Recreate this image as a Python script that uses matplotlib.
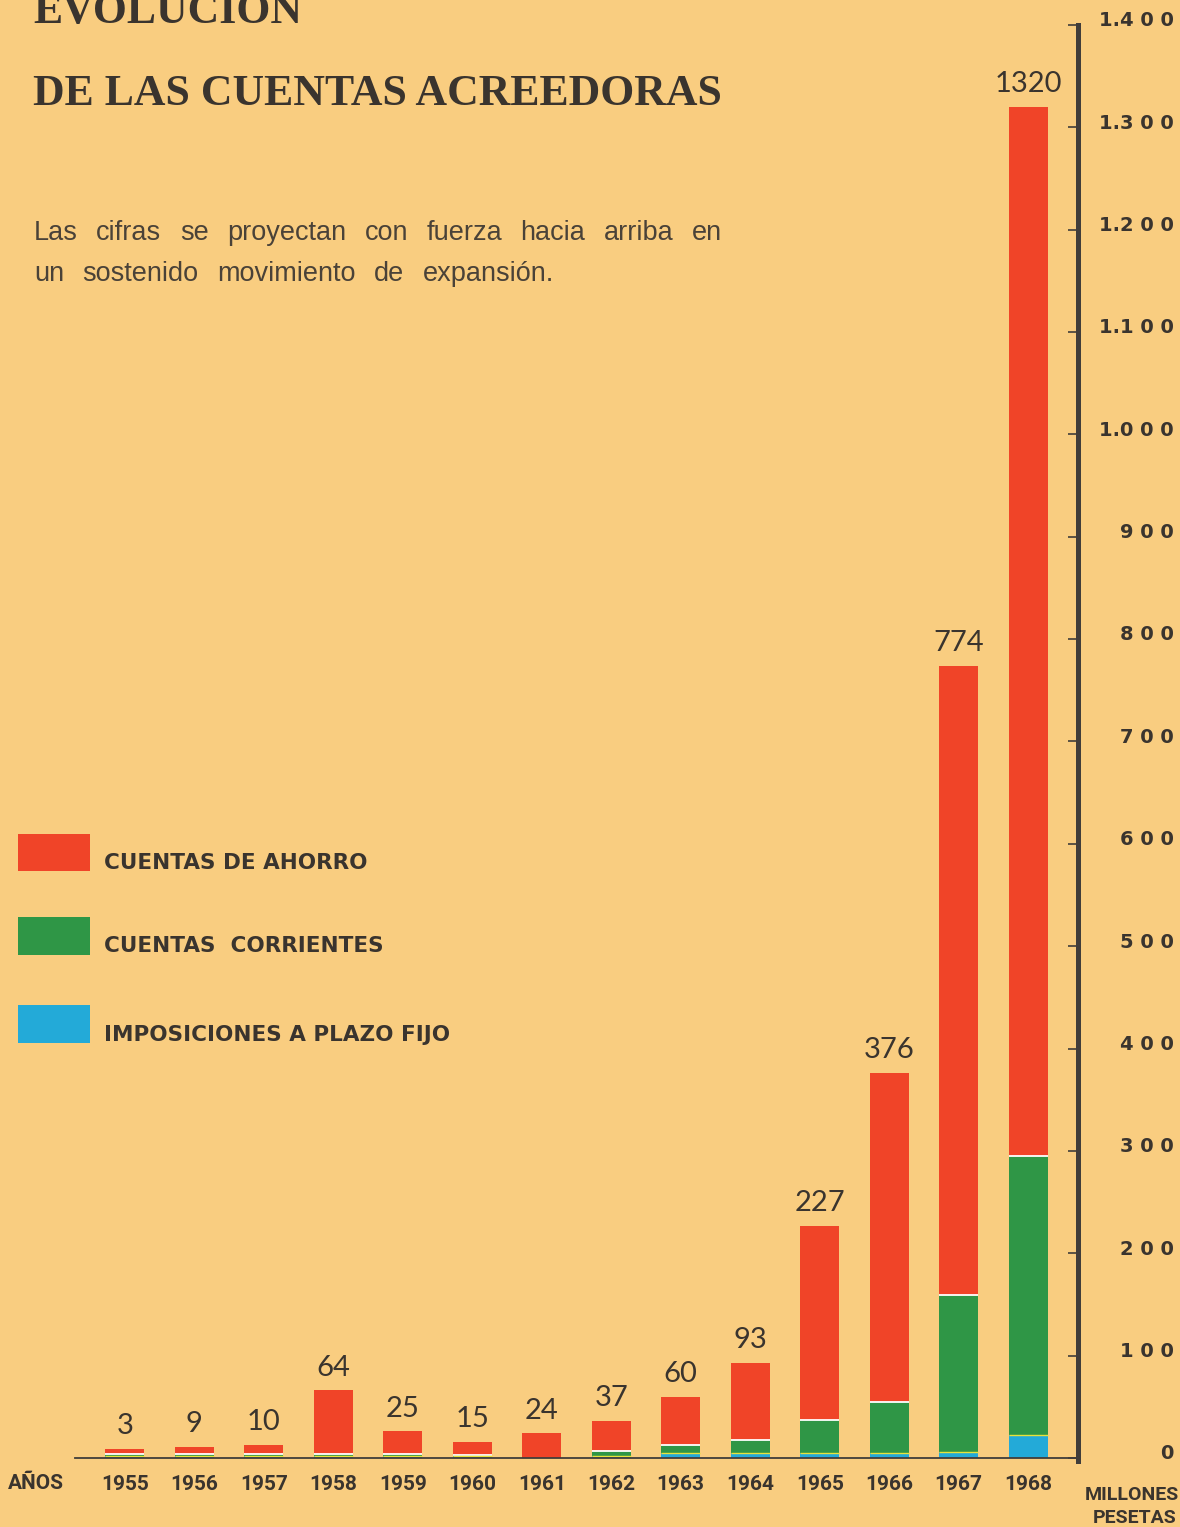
import numpy as np
import matplotlib
matplotlib.use("Agg")
import matplotlib.pyplot as plt
from matplotlib.patches import Rectangle

# ---------------- data ----------------
years = ["1955", "1956", "1957", "1958", "1959", "1960", "1961",
         "1962", "1963", "1964", "1965", "1966", "1967", "1968"]
ahorro = [5, 7, 9, 62, 22, 13, 24, 30, 47, 75, 190, 321, 615, 1025]
corrientes = [2.5, 2.5, 2.5, 2.5, 2.5, 1.5, 0, 5, 8, 13, 32, 50, 153, 273]
plazo_fijo = [1.5, 1.5, 1.5, 1.5, 1.5, 1.5, 0, 1.5, 5, 5, 5, 5, 6, 22]
totals = [3, 9, 10, 64, 25, 15, 24, 37, 60, 93, 227, 376, 774, 1320]
ytick_values = [0, 100, 200, 300, 400, 500, 600, 700, 800, 900,
                1000, 1100, 1200, 1300, 1400]
ytick_labels = ["0", "1 0 0", "2 0 0", "3 0 0", "4 0 0", "5 0 0", "6 0 0",
                "7 0 0", "8 0 0", "9 0 0", "1.0 0 0", "1.1 0 0", "1.2 0 0",
                "1.3 0 0", "1.4 0 0"]
legend_labels = ["CUENTAS DE AHORRO", "CUENTAS  CORRIENTES",
                 "IMPOSICIONES A PLAZO FIJO"]
subtitle_line1 = "Las cifras se proyectan con fuerza hacia arriba en"
subtitle_line2 = "un sostenido movimiento de expansión."

# ---------------- style ----------------
BG = "#F9CD80"
RED = "#F04428"
GREEN = "#2F9646"
BLUE = "#23AAD8"
INK = "#3A342E"
AXIS = "#413D3A"

W, H = 1180, 1527
fig = plt.figure(figsize=(W / 100, H / 100), dpi=100, facecolor=BG)

def fx(px):
    return px / W

def fy(py):
    return 1 - py / H

ax = fig.add_axes([fx(75), (H - 1458) / H, (1078 - 75) / W, (1458 - 14.7) / H])
ax.set_facecolor("none")
ax.set_xlim(-0.716, 13.716)
ax.set_ylim(0, 1410)

x = np.arange(len(years))
width = 0.56
a = np.array(ahorro, dtype=float)
c = np.array(corrientes, dtype=float)
p = np.array(plazo_fijo, dtype=float)

ax.bar(x, p, width, color=BLUE, linewidth=0, zorder=2)
ax.bar(x, c, width, bottom=p, color=GREEN, linewidth=0, zorder=2)
ax.bar(x, a, width, bottom=p + c, color=RED, linewidth=0, zorder=2)

# thin separators between the stacked segments
for xi, pi, ci in zip(x, p, c):
    if ci > 0:
        ax.hlines(pi + ci, xi - width / 2, xi + width / 2, color="white",
                  lw=1.3, zorder=3)
    if pi > 0:
        ax.hlines(pi, xi - width / 2, xi + width / 2, color="#E8E23A",
                  lw=1.0, zorder=3)

# value labels
for xi, tot, top in zip(x, totals, a + c + p):
    ax.annotate(str(tot), xy=(xi, top), xytext=(0, 7),
                textcoords="offset points", ha="center", va="bottom",
                fontsize=21, family=["Lato", "DejaVu Sans"], weight="normal",
                color=INK, annotation_clip=False)

# axes styling
for s in ("left", "top"):
    ax.spines[s].set_visible(False)
ax.spines["right"].set_linewidth(3.6)
ax.spines["right"].set_color(AXIS)
ax.spines["right"].set_bounds(-3, 1400)
ax.spines["right"].set_zorder(5)
ax.spines["bottom"].set_linewidth(1.3)
ax.spines["bottom"].set_color(AXIS)
ax.spines["bottom"].set_zorder(5)

ax.yaxis.tick_right()
ax.set_yticks(ytick_values)
ax.set_yticklabels([])
ax.tick_params(axis="y", direction="in", length=7, width=1.2, color=AXIS)
for v, lab in zip(ytick_values, ytick_labels):
    ax.annotate(lab, xy=(1, v), xycoords=("axes fraction", "data"),
                xytext=(69, 3), textcoords="offset points", ha="right",
                va="center", fontsize=14, weight="bold",
                family=["DejaVu Sans"], color=INK, annotation_clip=False)

ax.set_xticks(x)
ax.set_xticklabels(years, fontsize=15, weight="bold",
                   family=["Roboto", "DejaVu Sans"], color=INK)
ax.tick_params(axis="x", length=0, pad=12)

# ---------------- titles ----------------
title_font = dict(family=["Liberation Serif", "DejaVu Serif"], fontsize=31.5,
                  weight="bold", color=INK, va="baseline")
fig.text(fx(33), fy(23), "EVOLUCION", **title_font)
fig.text(fx(33), fy(105), "DE LAS CUENTAS ACREEDORAS", **title_font)

# justified subtitle
sub_font = dict(family=["Liberation Sans", "DejaVu Sans"], fontsize=19.5,
                color="#4A4238", va="baseline")
renderer = fig.canvas.get_renderer()

def place_words(line, x0, ybase, gap=None, x1=None):
    words = line.split()
    texts = [fig.text(0, 0, w, **sub_font) for w in words]
    widths = [t.get_window_extent(renderer).width for t in texts]
    if gap is None:
        gap = (x1 - x0 - sum(widths)) / (len(words) - 1)
    xx = x0
    for t, w in zip(texts, widths):
        t.set_position((fx(xx), fy(ybase)))
        xx += w + gap
    return gap

g = place_words(subtitle_line1, 34, 240, x1=722)
place_words(subtitle_line2, 34, 281, gap=g)

# ---------------- legend ----------------
leg_colors = [RED, GREEN, BLUE]
leg_boxes = [(834, 871), (917, 955), (1005, 1043)]
leg_base = [869, 952, 1041]
for col, (t, b), base, lab in zip(leg_colors, leg_boxes, leg_base,
                                  legend_labels):
    fig.add_artist(Rectangle((fx(18), fy(b)), fx(90) - fx(18),
                             fy(t) - fy(b), transform=fig.transFigure,
                             color=col, linewidth=0))
    fig.text(fx(104), fy(base), lab, fontsize=15.5, weight="bold",
             family=["DejaVu Sans"], color=INK, va="baseline")

# ---------------- axis captions ----------------
fig.text(fx(8), fy(1489), "AÑOS", fontsize=15, weight="bold",
         family=["Roboto", "DejaVu Sans"], color=INK, va="baseline")
fig.text(fx(1085), fy(1500), "MILLONES", fontsize=14, weight="bold",
         family=["Roboto", "DejaVu Sans"], color=INK, va="baseline")
fig.text(fx(1093), fy(1523), "PESETAS", fontsize=14, weight="bold",
         family=["Roboto", "DejaVu Sans"], color=INK, va="baseline")

fig.savefig("out.png", dpi=100, facecolor=BG)
